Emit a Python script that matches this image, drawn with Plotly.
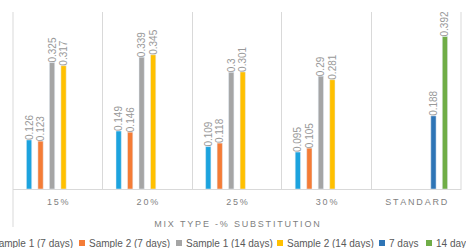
import plotly.graph_objects as go

categories = ["15%", "20%", "25%", "30%", "STANDARD"]
sample1_7 = [0.126, 0.149, 0.109, 0.095, None]
sample2_7 = [0.123, 0.146, 0.118, 0.105, None]
sample1_14 = [0.325, 0.339, 0.3, 0.29, None]
sample2_14 = [0.317, 0.345, 0.301, 0.281, None]
std_7 = [None, None, None, None, 0.188]
std_14 = [None, None, None, None, 0.392]

series_names = ["Sample 1 (7 days)", "Sample 2 (7 days)", "Sample 1 (14 days)",
                "Sample 2 (14 days)", "7 days", "14 days"]
series_values = [sample1_7, sample2_7, sample1_14, sample2_14, std_7, std_14]
colors = ["#1CA3DE", "#F47C36", "#A5A5A5", "#FFC000", "#2E75B6", "#70AD47"]

x_title = "MIX TYPE -% SUBSTITUTION"

W, H = 466, 248
ML, MR, MT, MB = 13, 5, 12, 59
PW, PH = W - ML - MR, H - MT - MB


def spaced(s, sp="\u2009"):
    return sp.join(list(s))


fig = go.Figure()
for name, vals, col in zip(series_names, series_values, colors):
    fig.add_trace(go.Bar(
        x=categories, y=vals, name=name, marker_color=col,
        text=[("" if v is None else str(v)) for v in vals],
        textposition="outside", textangle=-90, constraintext="none",
        textfont=dict(size=10, color="#999999", family="Liberation Sans"),
        cliponaxis=False, showlegend=False, hoverinfo="skip",
    ))

fig.update_layout(
    width=W, height=H,
    margin=dict(l=ML, r=MR, t=MT, b=MB, autoexpand=False),
    paper_bgcolor="white", plot_bgcolor="white",
    barmode="group", bargap=0.23, bargroupgap=0.54,
    font=dict(family="Liberation Sans", color="#7F7F7F"),
    xaxis=dict(
        range=[-0.5, 4.5], tickson="boundaries", showgrid=True, automargin=False,
        gridcolor="#D9D9D9", gridwidth=1, showline=True, linecolor="#D9D9D9",
        ticks="", tickmode="array", tickvals=categories,
        ticktext=[spaced(c) for c in categories], ticklabelstandoff=4,
        tickfont=dict(size=9, color="#7F7F7F"),
        title=dict(text=spaced(x_title), font=dict(size=9, color="#7F7F7F"), standoff=14),
    ),
    yaxis=dict(range=[0, 0.455], showgrid=False, zeroline=False, automargin=False,
               showticklabels=False, ticks=""),
)


def px(x):
    return (x - ML) / PW


def py(y):
    return (H - MB - y) / PH


shapes = []
shapes.append(dict(type="line", xref="paper", yref="paper", x0=0, x1=0,
                   y0=py(227), y1=1, line=dict(color="#D9D9D9", width=1)))
shapes.append(dict(type="line", xref="paper", yref="paper", x0=1, x1=1,
                   y0=py(190), y1=1, line=dict(color="#D9D9D9", width=1)))

legend_sq = [-15, 82, 179, 280, 382, 429]
leg_y = 243
annotations = []
for name, col, sx in zip(series_names, colors, legend_sq):
    shapes.append(dict(type="rect", xref="paper", yref="paper",
                       x0=px(sx - 3), x1=px(sx + 3), y0=py(leg_y + 3), y1=py(leg_y - 3),
                       fillcolor=col, line=dict(width=0)))
    annotations.append(dict(xref="paper", yref="paper", x=px(sx + 5), y=py(leg_y),
                            xanchor="left", yanchor="middle", showarrow=False,
                            text=name, font=dict(size=10, color="#595959")))

fig.update_layout(shapes=shapes, annotations=annotations)
fig.write_html("out.html", config={"displayModeBar": False},
               post_script="document.body.style.margin='0';")
